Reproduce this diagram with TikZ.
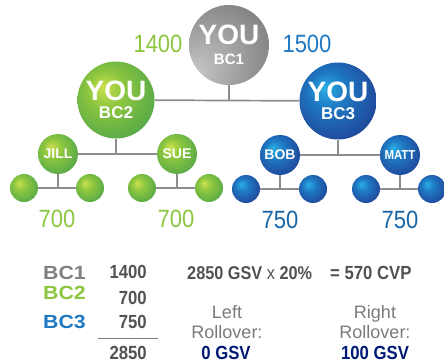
\documentclass[tikz,border=0pt]{standalone}
\usepackage{fontspec}
\setmainfont{Liberation Sans}
\newfontfamily\condfont[FakeStretch=0.88]{Liberation Sans}
\newfontfamily\widefont[FakeStretch=1.12]{Liberation Sans}
\usetikzlibrary{positioning}
\definecolor{greenhi}{HTML}{CCE04E}
\definecolor{greenmid}{HTML}{8CC63F}
\definecolor{greenlo}{HTML}{4EA44A}
\definecolor{bluehi}{HTML}{2AAEE4}
\definecolor{bluemid}{HTML}{1E78C2}
\definecolor{bluelo}{HTML}{203E92}
\definecolor{grayhi}{HTML}{C6C7C9}
\definecolor{graylo}{HTML}{545557}
\definecolor{linegray}{HTML}{8C8D90}
\colorlet{mygreen}{greenmid}
\colorlet{myblue}{bluemid}
\colorlet{mygray}{black!50}
\colorlet{mydark}{black!68}
\colorlet{mylight}{black!52}
\colorlet{mynavy}{blue!40!black!90!cyan}
\pgfdeclareradialshading{greenball}{\pgfpoint{-9bp}{9bp}}{color(0bp)=(greenhi); color(12bp)=(greenmid); color(34bp)=(greenlo); color(50bp)=(greenlo)}
\pgfdeclareradialshading{blueball}{\pgfpoint{-9bp}{9bp}}{color(0bp)=(bluehi); color(12bp)=(bluemid); color(34bp)=(bluelo); color(50bp)=(bluelo)}
\pgfdeclareradialshading{grayball}{\pgfpoint{-22bp}{-18bp}}{color(0bp)=(grayhi); color(62bp)=(graylo)}
\tikzstyle{ball}=[circle,shade,shading=#1ball,inner sep=0pt,text=white,align=center,font=\bfseries]
\tikzstyle{bigball}=[ball=#1,minimum size=77pt,font=\bfseries\fontsize{28}{18}\selectfont]
\tikzstyle{midball}=[ball=#1,minimum size=40pt,font=\bfseries\fontsize{14}{14}\selectfont]
\tikzstyle{leafball}=[ball=#1,minimum size=28pt]
\tikzstyle{myline}=[draw=linegray,line width=1.7pt]
\tikzstyle{mynumber}=[anchor=base,inner sep=0pt,font=\condfont\fontsize{25}{25}\selectfont]
\tikzstyle{mysum}=[inner sep=0pt,font=\condfont\bfseries\fontsize{19}{19}\selectfont,text=mydark]

\begin{document}
\begin{tikzpicture}[x=1pt,y=-1pt]
  \useasboundingbox (0,0) rectangle (444,363);

  % BC1
  \node[bigball=gray,minimum size=80pt,font=\bfseries\fontsize{28}{20}\selectfont] (bc1) at (229,45) {%
    YOU\\{\fontsize{15}{15}\selectfont BC1}};
  \node[mynumber,text=mygreen] (left-top) at (158,53) {1400};
  \node[mynumber,text=myblue] (right-top) at (307,53) {1500};

  % BC2, BC3
  \node[bigball=green] (bc2) at (116,100) {%
    YOU\\{\fontsize{17}{17}\selectfont BC2}};
  \node[bigball=blue] (bc3) at (338,101) {%
    YOU\\{\fontsize{17}{17}\selectfont BC3}};
  \draw[myline] (bc2) -- (bc3);
  \draw[myline] (bc1) -- (bc1 |- bc2);

  % second level
  \node[midball=green] (jill) at (58,154) {JILL};
  \node[midball=green] (sue) at (177,154) {SUE};
  \node[midball=blue] (bob) at (280,155) {BOB};
  \node[midball=blue,font=\condfont\bfseries\fontsize{13}{13}\selectfont] (matt) at (400,155) {MATT};
  \draw[myline] (jill) -- (sue);
  \draw[myline] (bob) -- (matt);
  \draw[myline] (bc2) -- (bc2 |- jill);
  \draw[myline] (bc3) -- (bc3 |- bob);

  % leaves
  \node[leafball=green] (jill-l) at (24,188) {};
  \node[leafball=green] (jill-r) at (90,188) {};
  \node[leafball=green] (sue-l) at (142,188) {};
  \node[leafball=green] (sue-r) at (209,188) {};
  \node[leafball=blue] (bob-l) at (246,189) {};
  \node[leafball=blue] (bob-r) at (313,189) {};
  \node[leafball=blue] (matt-l) at (366,189) {};
  \node[leafball=blue] (matt-r) at (432,189) {};
  \foreach \n in {jill,sue,bob,matt}{
    \draw[myline] (\n-l) -- (\n-r);
    \draw[myline] (\n) -- (\n |- \n-l);
  }

  % leg volumes
  \node[mynumber,text=mygreen] (jill-v) at (57,228) {700};
  \node[mynumber,text=mygreen] (sue-v) at (176,228) {700};
  \node[mynumber,text=myblue!85!black] (bob-v) at (280,229) {750};
  \node[mynumber,text=myblue!85!black] (matt-v) at (400,229) {750};

  % SUMMARY
  \node[mysum,anchor=base west,font=\widefont\bfseries\fontsize{19}{19}\selectfont,text=mygray] (bc1-name) at (43,279) {BC1};
  \node[mysum,anchor=base west,font=\widefont\bfseries\fontsize{19}{19}\selectfont,text=mygreen] (bc2-name) at (43,299) {BC2};
  \node[mysum,anchor=base west,font=\widefont\bfseries\fontsize{19}{19}\selectfont,text=myblue] (bc3-name) at (43,328) {BC3};
  \node[mysum,anchor=base east] (bc1-vol) at (147,278) {1400};
  \node[mysum,anchor=base east] (bc2-vol) at (147,304) {700};
  \node[mysum,anchor=base east] (bc3-vol) at (147,328) {750};
  \node[mysum,anchor=base east] (total) at (147,359) {2850};
  \coordinate (rule-l) at (98,338);
  \coordinate (rule-r) at (158,338);
  \draw[draw=mylight,line width=1pt] (rule-l) -- (rule-r);

  \node[mysum,anchor=base west,font=\condfont\bfseries\fontsize{18.5}{18.5}\selectfont] (calc) at (187,279) {2850 GSV {\mdseries x} 20\%};
  \node[mysum,anchor=base west,font=\condfont\bfseries\fontsize{19}{19}\selectfont] (cvp) at (330,279) {= 570 CVP};

  \node[mysum,anchor=base,font=\fontsize{18}{18}\selectfont,text=mylight] (left-a) at (227,318) {Left};
  \node[mysum,anchor=base,font=\fontsize{18}{18}\selectfont,text=mylight] (left-b) at (227,338) {Rollover:};
  \node[mysum,anchor=base,text=mynavy] (left-c) at (226,359) {0 GSV};
  \node[mysum,anchor=base,font=\fontsize{18}{18}\selectfont,text=mylight] (right-a) at (375,318) {Right};
  \node[mysum,anchor=base,font=\fontsize{18}{18}\selectfont,text=mylight] (right-b) at (375,338) {Rollover:};
  \node[mysum,anchor=base,text=mynavy] (right-c) at (375,359) {100 GSV};
\end{tikzpicture}
\end{document}
